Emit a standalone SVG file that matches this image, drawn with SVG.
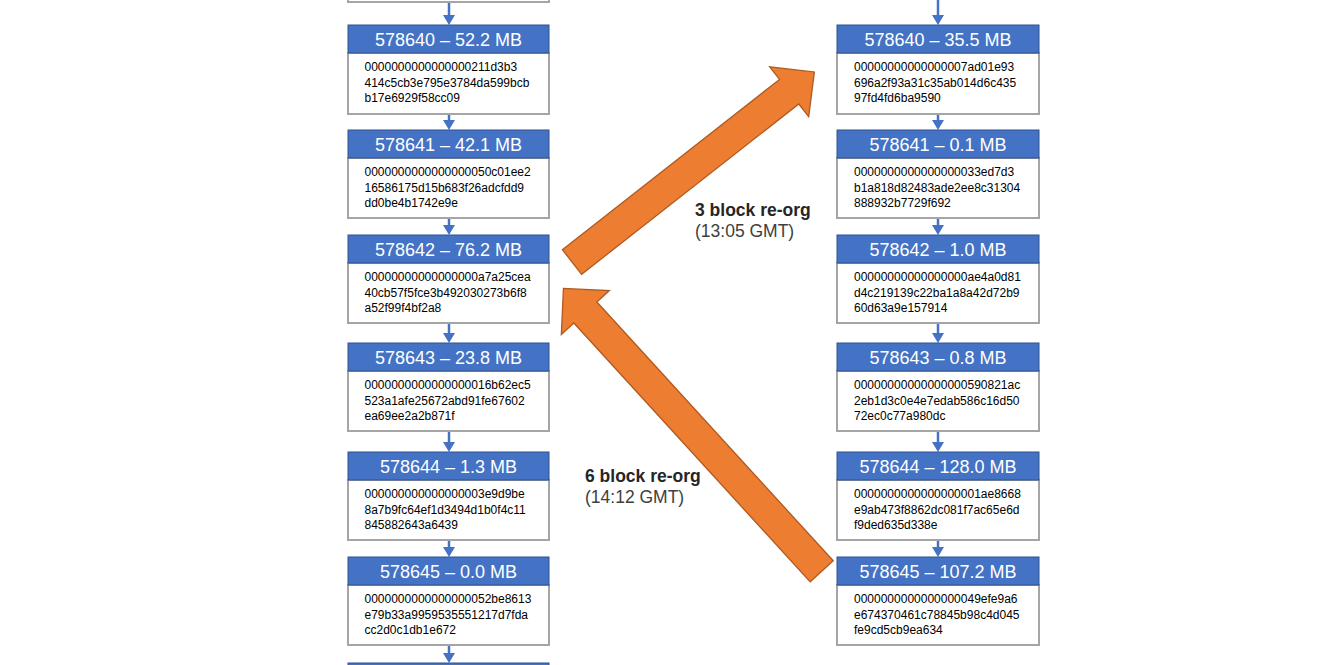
<svg xmlns="http://www.w3.org/2000/svg" width="1322" height="665" viewBox="0 0 1322 665">
<style>
.hd{fill:#4472C4;stroke:#2F528F;stroke-width:1}
.bd{fill:#FFFFFF;stroke:#A5A5A5;stroke-width:2}
.ht{font-family:"Liberation Sans",Arial,sans-serif;font-size:18px;fill:#FFFFFF;text-anchor:middle}
.bt{font-family:"Liberation Sans",Arial,sans-serif;font-size:12px;fill:#000000}
.cn{stroke:#4472C4;stroke-width:2.5;fill:none;marker-end:url(#ah)}
.oa{fill:#ED7D31;stroke:#AE5A21;stroke-width:1.3}
.lb{font-family:"Liberation Sans",Arial,sans-serif;font-size:17.5px;font-weight:bold;fill:#262626}
.lr{font-family:"Liberation Sans",Arial,sans-serif;font-size:17.5px;fill:#404040}
</style>
<defs>
<marker id="ah" markerUnits="userSpaceOnUse" viewBox="0 0 10 12" markerWidth="10" markerHeight="12" refX="2" refY="6" orient="auto">
<path d="M0,0 L10,6 L0,12 Z" fill="#4472C4"/>
</marker>
</defs>
<rect width="1322" height="665" fill="#FFFFFF"/>

<g id="connectors">
<line class="cn" x1="449" y1="2" x2="449" y2="17"/>
<line class="cn" x1="449" y1="114" x2="449" y2="122"/>
<line class="cn" x1="449" y1="218" x2="449" y2="227"/>
<line class="cn" x1="449" y1="323" x2="449" y2="335"/>
<line class="cn" x1="449" y1="431" x2="449" y2="444"/>
<line class="cn" x1="449" y1="540" x2="449" y2="549"/>
<line class="cn" x1="449" y1="645" x2="449" y2="655"/>
<line class="cn" x1="938" y1="0" x2="938" y2="17"/>
<line class="cn" x1="938" y1="114" x2="938" y2="122"/>
<line class="cn" x1="938" y1="218" x2="938" y2="227"/>
<line class="cn" x1="938" y1="323" x2="938" y2="335"/>
<line class="cn" x1="938" y1="431" x2="938" y2="444"/>
<line class="cn" x1="938" y1="540" x2="938" y2="549"/>
</g>

<g id="left-prev">
<rect class="bd" x="348" y="-60" width="201" height="62"/>
</g>

<g id="L578640">
<rect class="bd" x="348" y="53" width="201" height="61"/>
<rect class="hd" x="348" y="25" width="201" height="28"/>
<text class="ht" x="448.5" y="45.5">578640 – 52.2 MB</text>
<text class="bt" x="364.5" y="71.2">0000000000000000211d3b3</text>
<text class="bt" x="364.5" y="86.8">414c5cb3e795e3784da599bcb</text>
<text class="bt" x="364.5" y="102.4">b17e6929f58cc09</text>
</g>

<g id="L578641">
<rect class="bd" x="348" y="158" width="201" height="60"/>
<rect class="hd" x="348" y="130" width="201" height="28"/>
<text class="ht" x="448.5" y="150.5">578641 – 42.1 MB</text>
<text class="bt" x="364.5" y="176.2">0000000000000000050c01ee2</text>
<text class="bt" x="364.5" y="191.8">16586175d15b683f26adcfdd9</text>
<text class="bt" x="364.5" y="207.4">dd0be4b1742e9e</text>
</g>

<g id="L578642">
<rect class="bd" x="348" y="263" width="201" height="60"/>
<rect class="hd" x="348" y="235" width="201" height="28"/>
<text class="ht" x="448.5" y="255.5">578642 – 76.2 MB</text>
<text class="bt" x="364.5" y="281.2">00000000000000000a7a25cea</text>
<text class="bt" x="364.5" y="296.8">40cb57f5fce3b492030273b6f8</text>
<text class="bt" x="364.5" y="312.4">a52f99f4bf2a8</text>
</g>

<g id="L578643">
<rect class="bd" x="348" y="371" width="201" height="60"/>
<rect class="hd" x="348" y="343" width="201" height="28"/>
<text class="ht" x="448.5" y="363.5">578643 – 23.8 MB</text>
<text class="bt" x="364.5" y="389.2">0000000000000000016b62ec5</text>
<text class="bt" x="364.5" y="404.8">523a1afe25672abd91fe67602</text>
<text class="bt" x="364.5" y="420.4">ea69ee2a2b871f</text>
</g>

<g id="L578644">
<rect class="bd" x="348" y="480" width="201" height="60"/>
<rect class="hd" x="348" y="452" width="201" height="28"/>
<text class="ht" x="448.5" y="472.5">578644 – 1.3 MB</text>
<text class="bt" x="364.5" y="498.2">000000000000000003e9d9be</text>
<text class="bt" x="364.5" y="513.8">8a7b9fc64ef1d3494d1b0f4c11</text>
<text class="bt" x="364.5" y="529.4">845882643a6439</text>
</g>

<g id="L578645">
<rect class="bd" x="348" y="585" width="201" height="60"/>
<rect class="hd" x="348" y="557" width="201" height="28"/>
<text class="ht" x="448.5" y="577.5">578645 – 0.0 MB</text>
<text class="bt" x="364.5" y="603.2">0000000000000000052be8613</text>
<text class="bt" x="364.5" y="618.8">e79b33a9959535551217d7fda</text>
<text class="bt" x="364.5" y="634.4">cc2d0c1db1e672</text>
</g>

<g id="left-next">
<rect class="hd" x="348" y="663" width="201" height="28"/>
</g>

<g id="R578640">
<rect class="bd" x="837" y="53" width="202" height="61"/>
<rect class="hd" x="837" y="25" width="202" height="28"/>
<text class="ht" x="938" y="45.5">578640 – 35.5 MB</text>
<text class="bt" x="854" y="71.2">00000000000000007ad01e93</text>
<text class="bt" x="854" y="86.8">696a2f93a31c35ab014d6c435</text>
<text class="bt" x="854" y="102.4">97fd4fd6ba9590</text>
</g>

<g id="R578641">
<rect class="bd" x="837" y="158" width="202" height="60"/>
<rect class="hd" x="837" y="130" width="202" height="28"/>
<text class="ht" x="938" y="150.5">578641 – 0.1 MB</text>
<text class="bt" x="854" y="176.2">0000000000000000033ed7d3</text>
<text class="bt" x="854" y="191.8">b1a818d82483ade2ee8c31304</text>
<text class="bt" x="854" y="207.4">888932b7729f692</text>
</g>

<g id="R578642">
<rect class="bd" x="837" y="263" width="202" height="60"/>
<rect class="hd" x="837" y="235" width="202" height="28"/>
<text class="ht" x="938" y="255.5">578642 – 1.0 MB</text>
<text class="bt" x="854" y="281.2">00000000000000000ae4a0d81</text>
<text class="bt" x="854" y="296.8">d4c219139c22ba1a8a42d72b9</text>
<text class="bt" x="854" y="312.4">60d63a9e157914</text>
</g>

<g id="R578643">
<rect class="bd" x="837" y="371" width="202" height="60"/>
<rect class="hd" x="837" y="343" width="202" height="28"/>
<text class="ht" x="938" y="363.5">578643 – 0.8 MB</text>
<text class="bt" x="854" y="389.2">00000000000000000590821ac</text>
<text class="bt" x="854" y="404.8">2eb1d3c0e4e7edab586c16d50</text>
<text class="bt" x="854" y="420.4">72ec0c77a980dc</text>
</g>

<g id="R578644">
<rect class="bd" x="837" y="480" width="202" height="60"/>
<rect class="hd" x="837" y="452" width="202" height="28"/>
<text class="ht" x="938" y="472.5">578644 – 128.0 MB</text>
<text class="bt" x="854" y="498.2">0000000000000000001ae8668</text>
<text class="bt" x="854" y="513.8">e9ab473f8862dc081f7ac65e6d</text>
<text class="bt" x="854" y="529.4">f9ded635d338e</text>
</g>

<g id="R578645">
<rect class="bd" x="837" y="585" width="202" height="60"/>
<rect class="hd" x="837" y="557" width="202" height="28"/>
<text class="ht" x="938" y="577.5">578645 – 107.2 MB</text>
<text class="bt" x="854" y="603.2">0000000000000000049efe9a6</text>
<text class="bt" x="854" y="618.8">e674370461c78845b98c4d045</text>
<text class="bt" x="854" y="634.4">fe9cd5cb9ea634</text>
</g>

<g id="reorg3">
<path class="oa" transform="translate(572,262) rotate(-38.1)" d="M0,-15.6 H276 V-31.6 L308,0 L276,31.6 V15.6 H0 Z"/>
<text class="lb" x="695" y="216">3 block re-org</text>
<text class="lr" x="695" y="237">(13:05 GMT)</text>
</g>

<g id="reorg6">
<path class="oa" transform="translate(821.7,571.3) rotate(-132.4)" d="M0,-15.6 H350.5 V-32.5 L383,0 L350.5,32.5 V15.6 H0 Z"/>
<text class="lb" x="585" y="482">6 block re-org</text>
<text class="lr" x="585" y="503.3">(14:12 GMT)</text>
</g>
</svg>
